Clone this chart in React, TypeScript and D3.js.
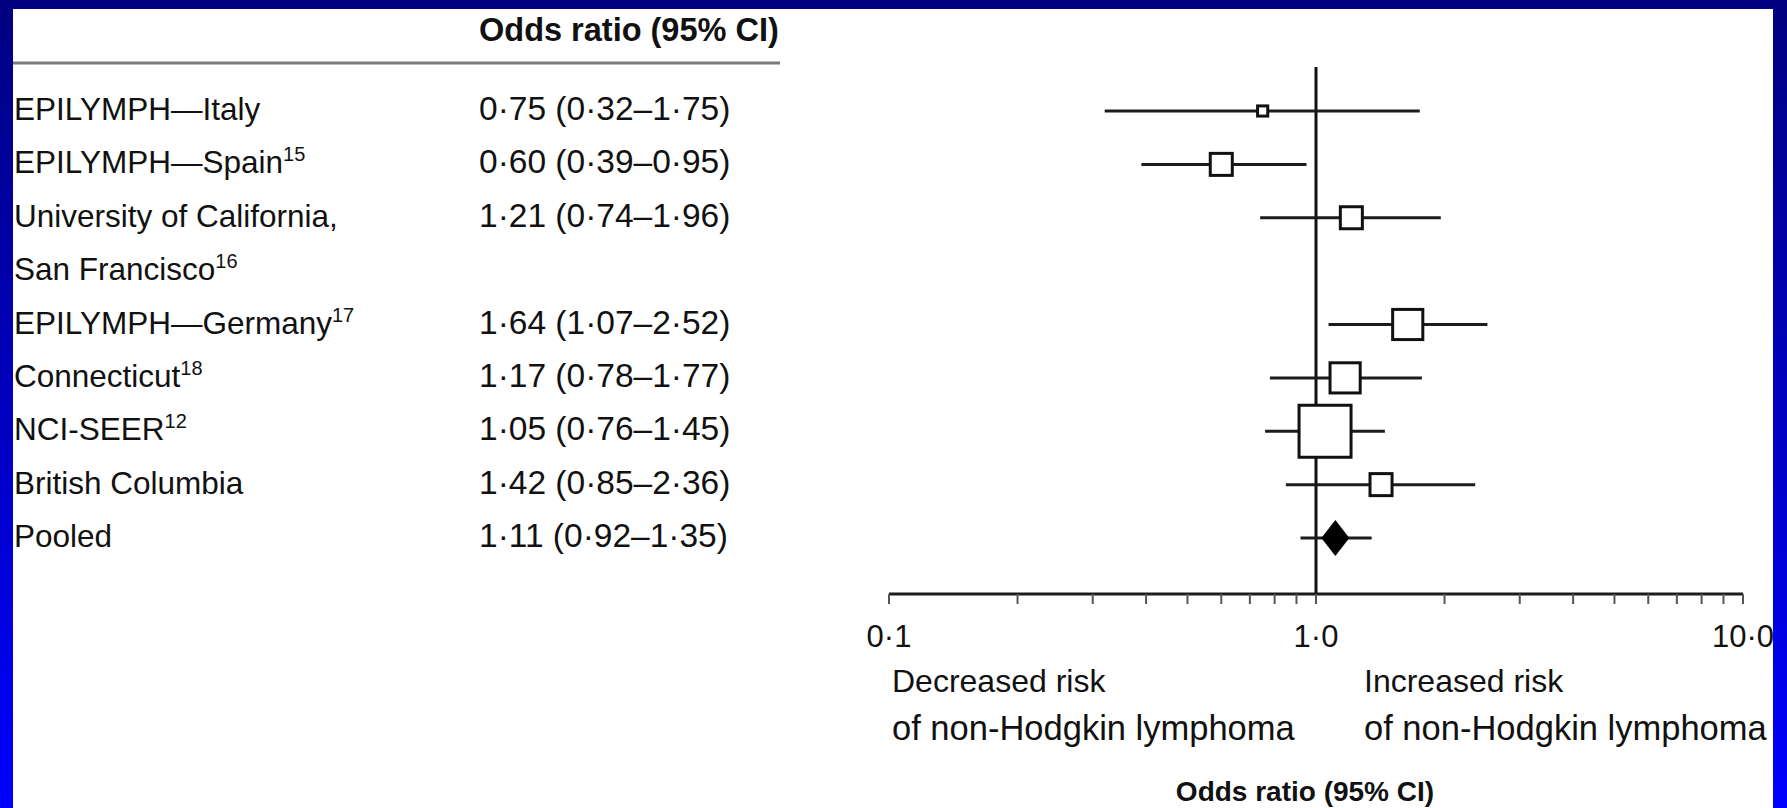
import React from 'react';
import * as d3 from 'd3';

// forest plot data
const studyLines: string[][] = [
  ["EPILYMPH\u2014Italy"],
  ["EPILYMPH\u2014Spain"],
  ["University of California,", "San Francisco"],
  ["EPILYMPH\u2014Germany"],
  ["Connecticut"],
  ["NCI-SEER"],
  ["British Columbia"],
  ["Pooled"],
];
const refs = ["", "15", "16", "17", "18", "12", "", ""];
const oddsRatio = [0.75, 0.60, 1.21, 1.64, 1.17, 1.05, 1.42, 1.11];
const ciLow = [0.32, 0.39, 0.74, 1.07, 0.78, 0.76, 0.85, 0.92];
const ciHigh = [1.75, 0.95, 1.96, 2.52, 1.77, 1.45, 2.36, 1.35];
// relative study weight (box area), pooled row drawn as diamond
const weights = [1.7, 8, 8, 15, 15, 44.6, 8, 0];
const pooledIndex = 7;

const axisLabels = [0.1, 1, 10];
const headerText = "Odds ratio (95% CI)";
const leftNote = ["Decreased risk", "of non-Hodgkin lymphoma"];
const rightNote = ["Increased risk", "of non-Hodgkin lymphoma"];

const W = 1787;
const H = 808;
const FONT = "'Liberation Sans', Arial, sans-serif";

const fmt = (v: number, digits: number) => d3.format(`.${digits}f`)(v).replace(".", "\u00b7");

export default function App() {
  const x = d3.scaleLog().domain([0.1, 10]).range([889, 1743]);

  // each row starts at a line slot; the two-line label pushes later rows down
  const slots: number[] = [];
  studyLines.reduce((acc, lines) => {
    slots.push(acc);
    return acc + lines.length;
  }, 0);
  const y = d3.scaleLinear().domain([0, 8]).range([120, 547]);
  const box = d3.scaleSqrt().domain([0, d3.max(weights)!]).range([0, 52]);

  const axisY = 594;
  const markOffset = -9;
  const noteSize = [32, 34.5];

  return (
    <svg width={W} height={H} style={{position: 'absolute', left: 0, top: 0, display: 'block'}}
         fontFamily={FONT}>
      <defs>
        <linearGradient id="frame" x1="0" y1="0" x2="0" y2="1">
          <stop offset="0" stopColor="#000080"/>
          <stop offset="1" stopColor="#0000ff"/>
        </linearGradient>
      </defs>
      <rect x={0} y={0} width={W} height={H} fill="url(#frame)"/>
      <rect x={13} y={9} width={1773 - 13} height={H - 9} fill="#fff"/>

      {/* table header and rule */}
      <text x={479} y={41} fontSize={32.5} fontWeight="bold" fill="#111">{headerText}</text>
      <line x1={13} x2={780} y1={63} y2={63} stroke="#7a7a7a" strokeWidth={3}/>

      {/* study labels and values */}
      {studyLines.map((lines, i) => (
        <g key={i} fill="#111">
          {lines.map((ln, j) => (
            <text key={j} x={14} y={y(slots[i] + j)} fontSize={31.5}>
              {ln}
              {j === lines.length - 1 && refs[i] &&
                <tspan fontSize={20} dy={-12}>{refs[i]}</tspan>}
            </text>
          ))}
          <text x={479} y={y(slots[i])} fontSize={33.5}>
            {`${fmt(oddsRatio[i], 2)} (${fmt(ciLow[i], 2)}\u2013${fmt(ciHigh[i], 2)})`}
          </text>
        </g>
      ))}

      {/* null line */}
      <line x1={x(1)} x2={x(1)} y1={67} y2={axisY} stroke="#111" strokeWidth={3}/>

      {/* confidence intervals and markers */}
      {oddsRatio.map((or, i) => {
        const cy = y(slots[i]) + markOffset;
        const s = box(weights[i]);
        return (
          <g key={i}>
            <line x1={x(ciLow[i])} x2={x(ciHigh[i])} y1={cy} y2={cy} stroke="#1c1c1c" strokeWidth={3}/>
            {i === pooledIndex ? (
              <path d={`M${x(or)},${cy - 18}L${x(or) + 14},${cy}L${x(or)},${cy + 18}L${x(or) - 14},${cy}Z`}
                    fill="#000"/>
            ) : (
              <rect x={x(or) - s / 2} y={cy - s / 2} width={s} height={s}
                    fill="#fff" stroke="#111" strokeWidth={3}/>
            )}
          </g>
        );
      })}

      {/* x axis */}
      <line x1={x(0.1)} x2={x(10)} y1={axisY} y2={axisY} stroke="#1c1c1c" strokeWidth={3}/>
      {x.ticks().map((t, i) => (
        <line key={i} x1={x(t)} x2={x(t)} y1={axisY} y2={axisY + 10} stroke="#555" strokeWidth={2}/>
      ))}
      {axisLabels.map((t, i) => (
        <text key={i} x={x(t)} y={647} textAnchor="middle" fontSize={31} fill="#111">{fmt(t, 1)}</text>
      ))}

      {/* direction notes */}
      {leftNote.map((t, i) => (
        <text key={'l' + i} x={892} y={692 + i * 48} fontSize={noteSize[i]} fill="#111">{t}</text>
      ))}
      {rightNote.map((t, i) => (
        <text key={'r' + i} x={1364} y={692 + i * 48} fontSize={noteSize[i]} fill="#111">{t}</text>
      ))}
      <text x={1305} y={801} textAnchor="middle" fontSize={28} fontWeight="bold" fill="#111">{headerText}</text>

      {/* right frame strip drawn over clipped text */}
      <rect x={1773} y={0} width={W - 1773} height={H} fill="url(#frame)"/>
      <rect x={0} y={0} width={W} height={9} fill="#000080"/>
    </svg>
  );
}
